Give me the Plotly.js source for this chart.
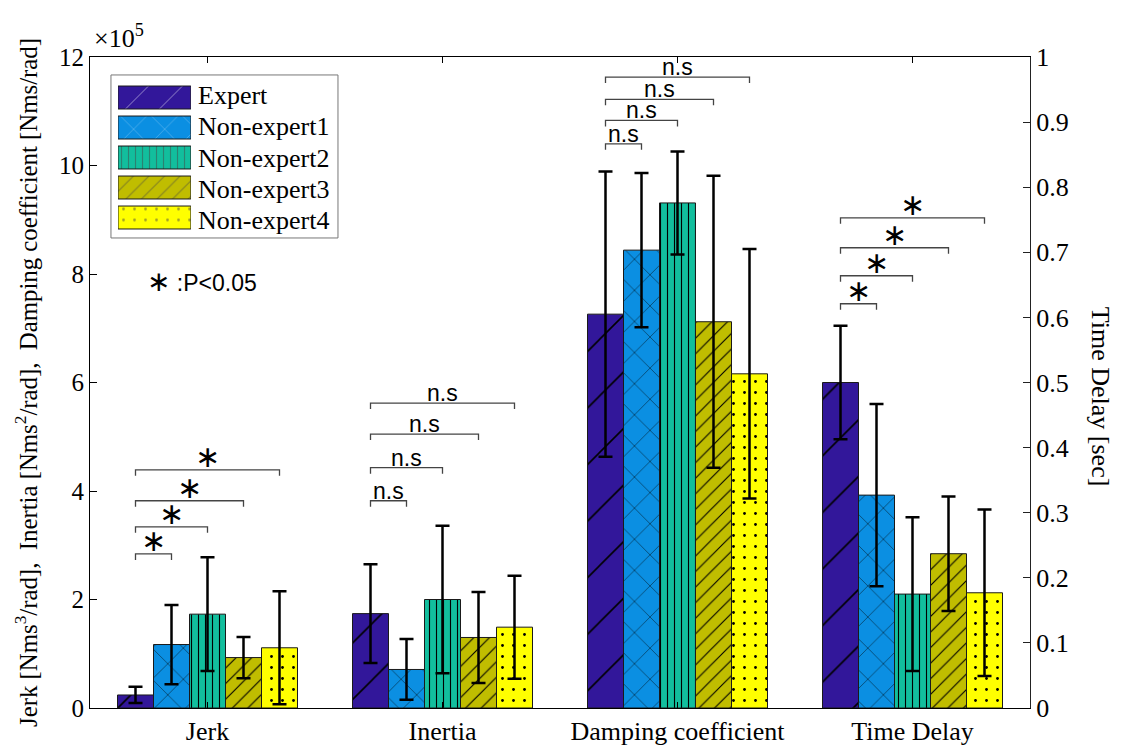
<!DOCTYPE html>
<html>
<head>
<meta charset="utf-8">
<script src="https://cdn.plot.ly/plotly-3.0.1.min.js"></script>
<style>html,body{margin:0;padding:0;background:#fff;}#chart{width:1121px;height:756px;}</style>
</head>
<body>
<div id="chart"></div>
<script>
// ---- data ----
const categories = ['Jerk', 'Inertia', 'Damping coefficient', 'Time Delay'];
const leftCategories = ['Jerk', 'Inertia', 'Damping coefficient'];
const rightCategories = ['Time Delay'];
const seriesNames = ['Expert', 'Non-expert1', 'Non-expert2', 'Non-expert3', 'Non-expert4'];

// left axis values (x10^5) for Jerk, Inertia, Damping coefficient
const expertMean = [0.24, 1.74, 7.26];
const expertErr  = [0.15, 0.91, 2.63];
const ne1Mean = [1.17, 0.71, 8.44];
const ne1Err  = [0.73, 0.56, 1.42];
const ne2Mean = [1.73, 2.00, 9.31];
const ne2Err  = [1.05, 1.36, 0.95];
const ne3Mean = [0.93, 1.30, 7.12];
const ne3Err  = [0.38, 0.84, 2.69];
const ne4Mean = [1.11, 1.49, 6.16];
const ne4Err  = [1.04, 0.95, 2.30];

// right axis values (sec) for Time Delay, one per series
const timeDelayMean = [0.500, 0.327, 0.175, 0.237, 0.177];
const timeDelayErr  = [0.087, 0.140, 0.118, 0.088, 0.128];

// significance brackets: heights (same axis as the group) and labels
const jerkBracketY    = [2.84, 3.34, 3.82, 4.39];
const inertiaBracketY = [3.82, 4.43, 5.05, 5.62];
const dampingBracketY = [10.40, 10.83, 11.22, 11.63];
const timeBracketY    = [0.621, 0.664, 0.707, 0.753];
const bracketLabels   = ['*', 'n.s', 'n.s', '*'];

// ---- styles ----
const colors = ['#32179a', '#0b8fe2', '#12be9d', '#c0bd00', '#ffff00'];
const patShapes = ['/', 'x', '|', '/', '.'];
const patSizes = [40, 22, 7, 11, 11];
const patSolid = [0.04, 0.04, 0.16, 0.1, 0.05];
const leftMeans = [expertMean, ne1Mean, ne2Mean, ne3Mean, ne4Mean];
const leftErrs = [expertErr, ne1Err, ne2Err, ne3Err, ne4Err];

const serif = 'Liberation Serif, Times New Roman, serif';
const sans = 'Liberation Sans, Arial, sans-serif';
const bargap = 0.234;
const nSeries = seriesNames.length;
const barW = (1 - bargap) / nSeries;

function markerFor(i) {
  return {
    color: colors[i],
    line: {color: '#1a1a1a', width: 1},
    pattern: {shape: patShapes[i], size: patSizes[i], solidity: patSolid[i],
              fgcolor: '#000', fgopacity: 1, bgcolor: colors[i], fillmode: 'overlay'}
  };
}

const traces = [];
for (let i = 0; i < nSeries; i++) {
  traces.push({
    type: 'bar', name: seriesNames[i], offsetgroup: String(i),
    x: leftCategories, y: leftMeans[i], xaxis: 'x', yaxis: 'y', showlegend: false,
    marker: markerFor(i),
    error_y: {type: 'data', array: leftErrs[i], visible: true, color: '#000', thickness: 2.5, width: 7}
  });
}
for (let i = 0; i < nSeries; i++) {
  traces.push({
    type: 'bar', name: seriesNames[i], offsetgroup: String(i),
    x: rightCategories, y: [timeDelayMean[i]], xaxis: 'x', yaxis: 'y2', showlegend: false,
    marker: markerFor(i),
    error_y: {type: 'data', array: [timeDelayErr[i]], visible: true, color: '#000', thickness: 2.5, width: 7}
  });
}

// legend swatches drawn as a small horizontal bar trace on its own axes
traces.push({
  type: 'bar', orientation: 'h', name: 'legend',
  y: seriesNames, x: seriesNames.map(() => 1), xaxis: 'x3', yaxis: 'y3',
  showlegend: false, hoverinfo: 'skip',
  marker: {
    color: colors, line: {color: '#1a1a1a', width: 1},
    pattern: {shape: patShapes, size: patSizes.map(s => Math.min(s, 24)), solidity: patSolid,
              fgcolor: '#000', bgcolor: colors, fillmode: 'overlay'}
  }
});

// brackets
const plotH = 756 - 57 - 48;
const shapes = [];
const annotations = [];
function addBrackets(groupIdx, ys, yref, range, label) {
  const drop = 6 * range / plotH;
  const x0 = groupIdx + (0 - 2) * barW;
  ys.forEach((y, k) => {
    const x1 = groupIdx + (k + 1 - 2) * barW;
    shapes.push({
      type: 'path', xref: 'x', yref: yref,
      path: `M ${x0} ${y - drop} L ${x0} ${y} L ${x1} ${y} L ${x1} ${y - drop}`,
      line: {color: '#444', width: 1.3}
    });
    const isStar = label === '*';
    annotations.push({
      xref: 'x', yref: yref, x: (x0 + x1) / 2, y: y,
      text: isStar ? '∗' : 'n.s',
      showarrow: false, xanchor: 'center', yanchor: 'bottom',
      yshift: isStar ? -6 : -5,
      font: isStar ? {family: 'DejaVu Sans', size: 30, color: '#000'} : {family: sans, size: 23, color: '#000'}
    });
  });
}
addBrackets(0, jerkBracketY, 'y', 12, bracketLabels[0]);
addBrackets(1, inertiaBracketY, 'y', 12, bracketLabels[1]);
addBrackets(2, dampingBracketY, 'y', 12, bracketLabels[2]);
addBrackets(3, timeBracketY, 'y2', 1, bracketLabels[3]);

// legend box and names
shapes.push({
  type: 'rect', xref: 'paper', yref: 'paper', layer: 'below',
  x0: 0.0223, x1: 0.2638, y0: 0.722, y1: 0.9724,
  fillcolor: '#fff', line: {color: '#777', width: 1}
});
const legendRowY = [0.9412, 0.8936, 0.8445, 0.7969, 0.7493];
seriesNames.forEach((nm, i) => {
  annotations.push({
    xref: 'paper', yref: 'paper', x: 0.1128, y: legendRowY[i], xanchor: 'left', yanchor: 'middle',
    text: nm, showarrow: false, font: {family: serif, size: 26, color: '#000'}
  });
});

annotations.push({
  xref: 'paper', yref: 'paper', x: 0.002, y: 1.0, xanchor: 'left', yanchor: 'bottom', yshift: 2,
  text: '×10<sup>5</sup>', showarrow: false, font: {family: serif, size: 26, color: '#000'}
});
annotations.push({
  xref: 'paper', yref: 'paper', x: 0.058, y: 0.655, xanchor: 'left', yanchor: 'middle',
  text: '<span style="font-size:28px;font-family:DejaVu Sans">∗</span> :P&lt;0.05', showarrow: false,
  font: {family: sans, size: 23, color: '#000'}
});
annotations.push({
  xref: 'paper', yref: 'paper', x: 1.0745, y: 0.478, xanchor: 'center', yanchor: 'middle',
  text: 'Time Delay [sec]', textangle: 90, showarrow: false,
  font: {family: serif, size: 26, color: '#000'}
});

const layout = {
  width: 1121, height: 756,
  margin: {l: 90, r: 91, t: 57, b: 48},
  paper_bgcolor: '#fff', plot_bgcolor: '#fff',
  barmode: 'group', bargap: bargap, bargroupgap: 0,
  showlegend: false,
  xaxis: {
    type: 'category', categoryorder: 'array', categoryarray: categories,
    range: [-0.5, 3.5], showline: true, linecolor: '#000', linewidth: 1,
    mirror: 'ticks', ticks: 'inside', ticklen: 6, tickcolor: '#000',
    showgrid: false, zeroline: false,
    tickfont: {family: serif, size: 26, color: '#000'}
  },
  yaxis: {
    range: [0, 12], dtick: 2, showline: true, linecolor: '#000', linewidth: 1,
    ticks: 'inside', ticklen: 7, tickcolor: '#000', showgrid: false, zeroline: false,
    tickfont: {family: serif, size: 25, color: '#000'},
    title: {
      text: 'Jerk [Nms<sup>3</sup>/rad],  Inertia [Nms<sup>2</sup>/rad],  Damping coefficient [Nms/rad]',
      font: {family: serif, size: 24.8, color: '#000'}, standoff: 14
    }
  },
  yaxis2: {
    overlaying: 'y', side: 'right', range: [0, 1], dtick: 0.1,
    showline: true, linecolor: '#222', linewidth: 1,
    ticks: 'inside', ticklen: 7, tickcolor: '#222', showgrid: false, zeroline: false,
    tickfont: {family: serif, size: 26, color: '#000'}
  },
  xaxis3: {domain: [0.0298, 0.1074], range: [0, 1], anchor: 'y3', visible: false, fixedrange: true},
  yaxis3: {domain: [0.7304, 0.9608], anchor: 'x3', visible: false, type: 'category',
           categoryorder: 'array', categoryarray: seriesNames.slice().reverse(), fixedrange: true},
  shapes: shapes,
  annotations: annotations
};

Plotly.newPlot('chart', traces, layout, {displayModeBar: false, staticPlot: true});
</script>
</body>
</html>
